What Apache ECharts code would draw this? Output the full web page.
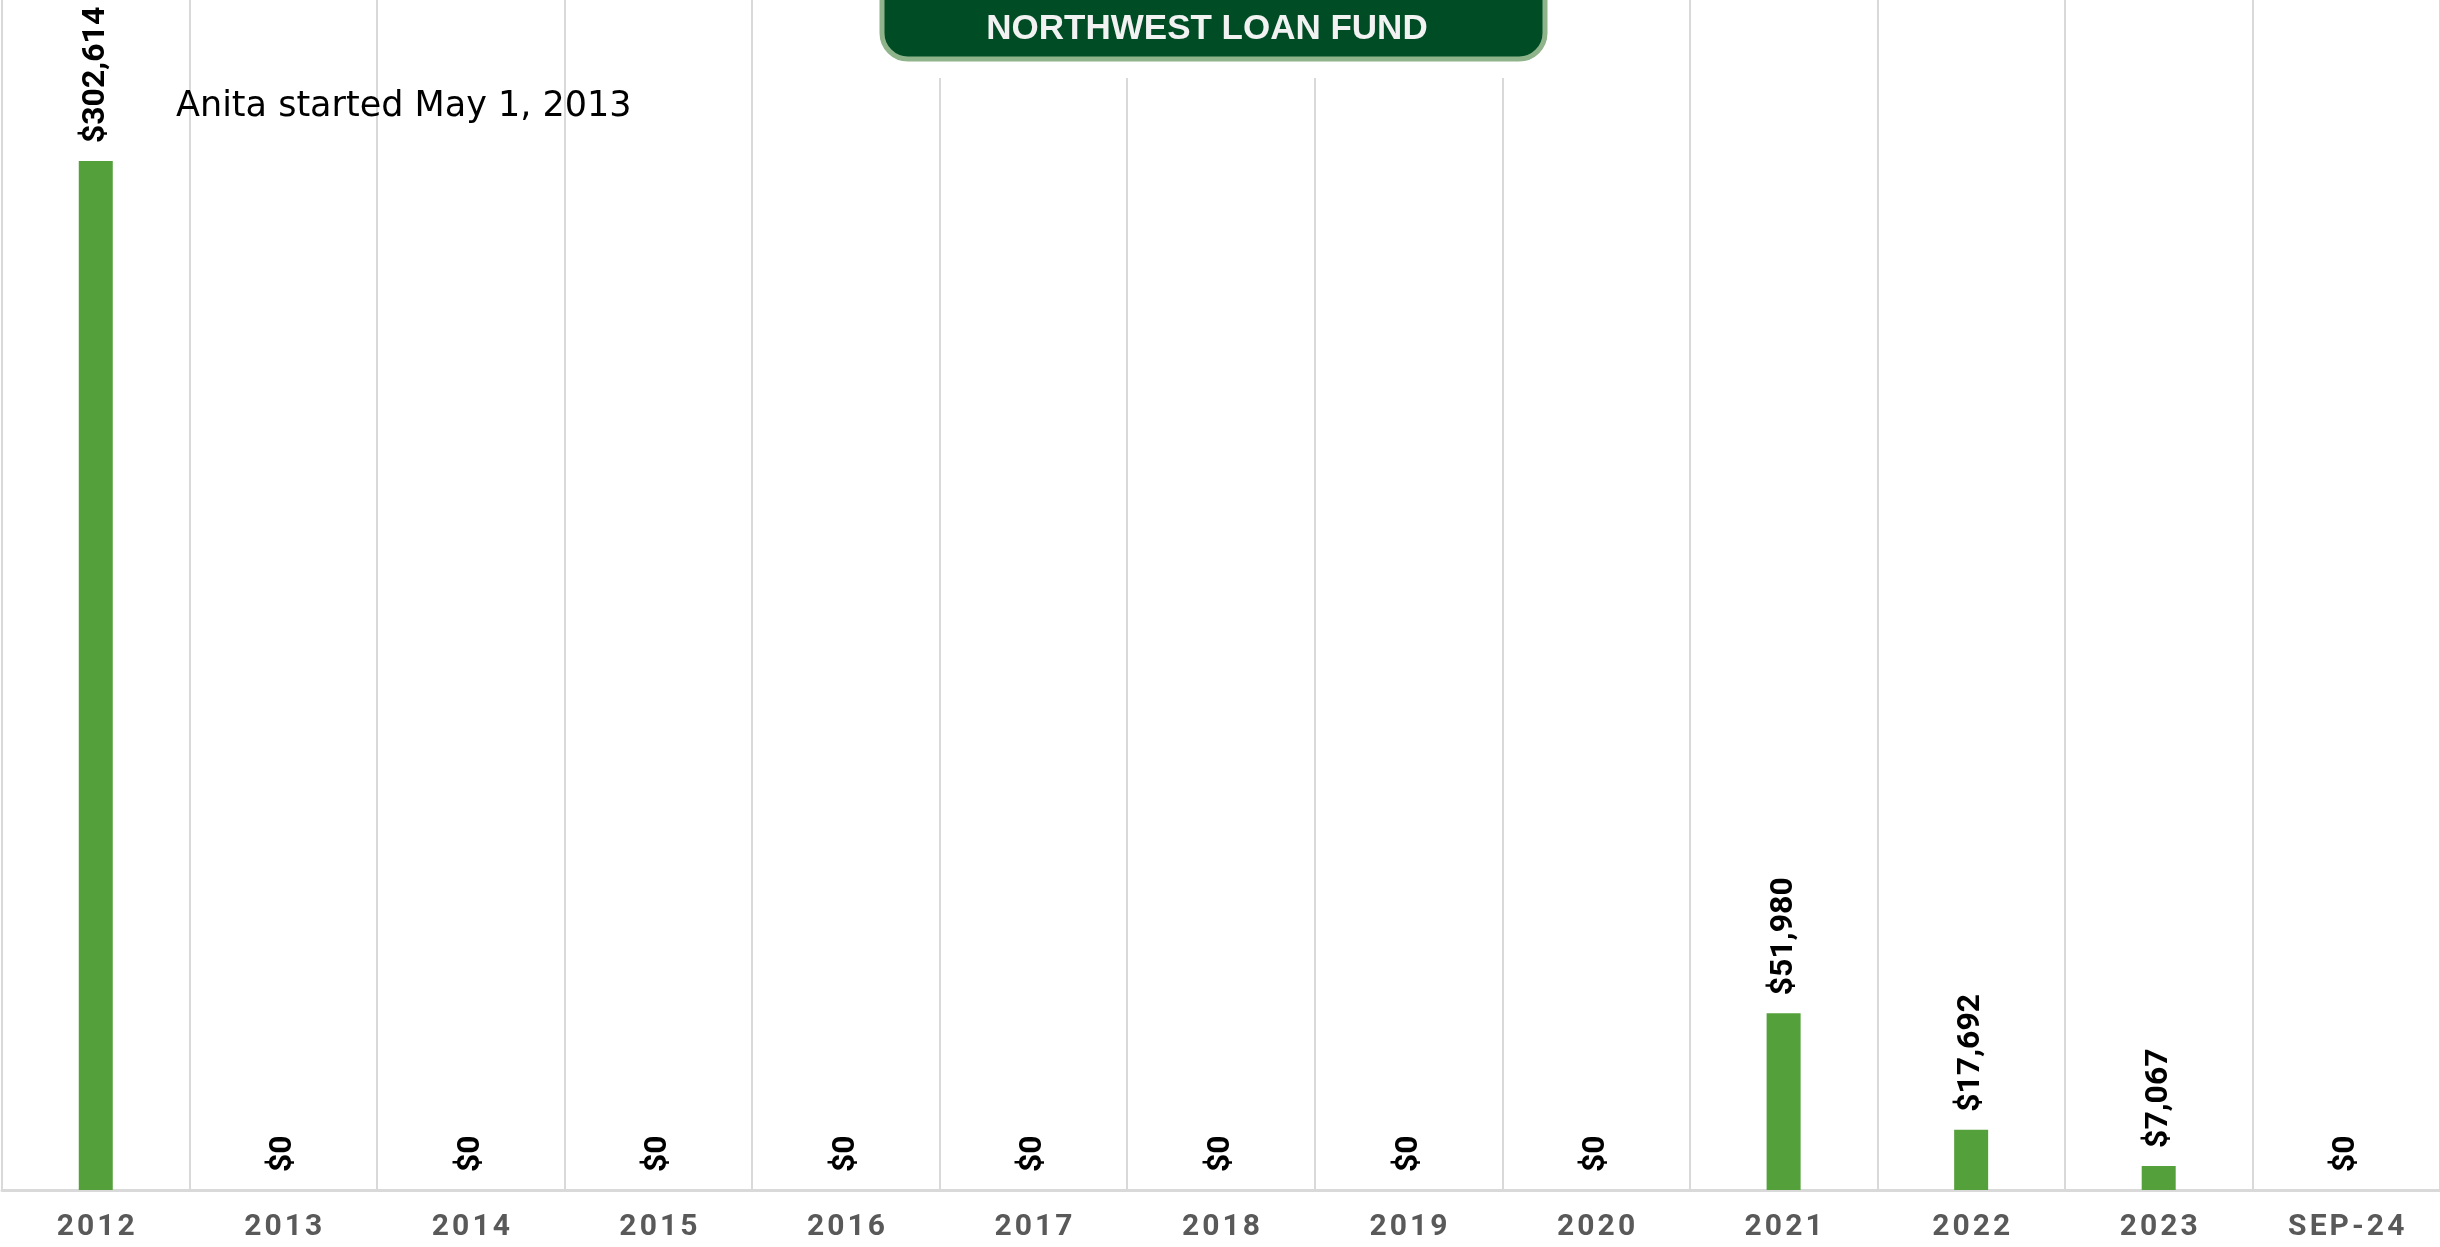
<!DOCTYPE html>
<html>
<head>
<meta charset="utf-8">
<style>
html,body{margin:0;padding:0;background:#fff;}
#chart{width:2440px;height:1247px;}
</style>
<script src="https://cdn.jsdelivr.net/npm/echarts@6/dist/echarts.min.js"></script>
</head>
<body>
<div id="chart"></div>
<script>
const categories = ['2012','2013','2014','2015','2016','2017','2018','2019','2020','2021','2022','2023','SEP-24'];
const values = [302614, 0, 0, 0, 0, 0, 0, 0, 0, 51980, 17692, 7067, 0];
const titleText = 'NORTHWEST LOAN FUND';
const noteText = 'Anita started May 1, 2013';

const chart = echarts.init(document.getElementById('chart'));
const fmt = v => '$' + v.toLocaleString('en-US');
const spaced = s => s.split('').join('\u200A');

chart.setOption({
  animation: false,
  backgroundColor: '#ffffff',
  grid: {left: 2, right: -2, top: 0, bottom: 57, containLabel: false},
  xAxis: {
    type: 'category',
    data: categories,
    axisLine: {show: true, lineStyle: {color: '#d9d9d9', width: 3}},
    axisTick: {show: false},
    splitLine: {show: true, lineStyle: {color: '#d9d9d9', width: 2}},
    axisLabel: {
      color: '#595959', fontFamily: 'Roboto', fontWeight: 'bold',
      fontSize: 30, margin: 22,
      formatter: v => spaced(v)
    }
  },
  yAxis: {
    type: 'value', min: 0, max: 350000, show: false,
    splitLine: {show: false}
  },
  series: [{
    type: 'bar',
    data: values,
    barWidth: 34,
    itemStyle: {color: '#54a03a'},
    label: {
      show: true, position: 'top', rotate: 90, distance: 18,
      align: 'left', verticalAlign: 'middle',
      color: '#000', fontFamily: 'Roboto', fontWeight: 'bold', fontSize: 32,
      formatter: p => fmt(p.value)
    }
  }],
  graphic: [
    {type: 'rect', shape: {x: 876, y: 0, width: 674, height: 78}, style: {fill: '#ffffff'}, z: 100},
    {type: 'rect', shape: {x: 882, y: -30, width: 663, height: 89, r: 26},
     style: {fill: '#004d25', stroke: '#8fb38a', lineWidth: 5}, z: 101},
    {type: 'text', x: 1207, y: 29, z: 102,
     style: {text: titleText, fill: '#f2f2f2', font: 'bold 35px "Liberation Sans", Arial, sans-serif',
             textAlign: 'center', textVerticalAlign: 'middle'}},
    {type: 'text', x: 176, y: 107, z: 102,
     style: {text: noteText, fill: '#000', font: '35px "DejaVu Sans", sans-serif',
             textAlign: 'left', textVerticalAlign: 'middle'}}
  ]
});
</script>
</body>
</html>
